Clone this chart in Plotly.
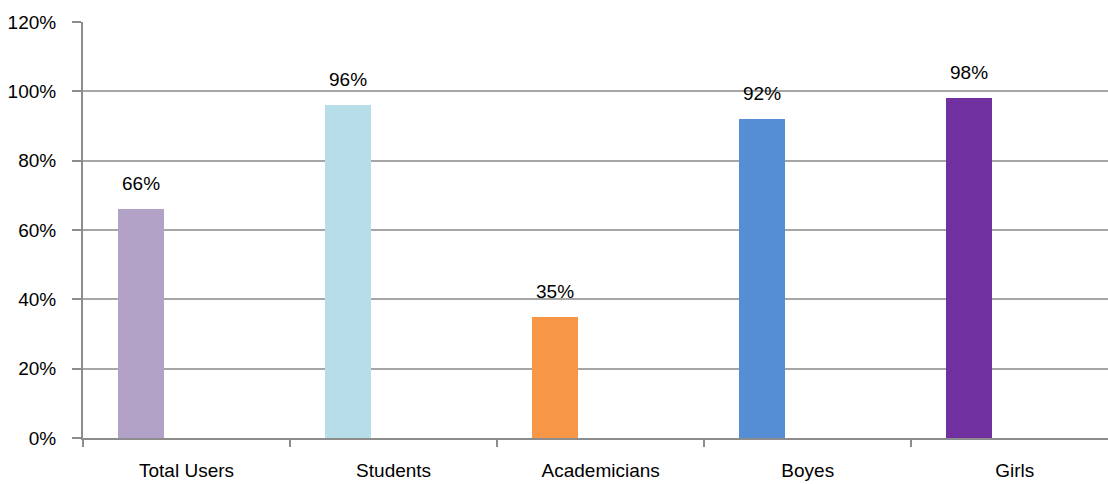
import plotly.graph_objects as go

categories = ["Total Users", "Students", "Academicians", "Boyes", "Girls"]
values = [66, 96, 35, 92, 98]
colors = ["#B3A2C7", "#B7DEE8", "#F79646", "#558ED5", "#7030A0"]
y_ticks = [0, 20, 40, 60, 80, 100, 120]

BAR_W = 0.222
BAR_OFF = -0.331
FONT = "Liberation Sans Narrow, Liberation Sans, Arial"

fig = go.Figure()
fig.add_trace(go.Bar(
    x=categories, y=values, marker=dict(color=colors, line=dict(width=0)),
    width=BAR_W, offset=BAR_OFF, showlegend=False, hoverinfo="x+y",
))

for i, v in enumerate(values):
    fig.add_annotation(x=i + BAR_OFF + BAR_W / 2, y=v, text=f"{v}%", showarrow=False,
                       yanchor="bottom", yshift=13, font=dict(size=19, color="#000", family=FONT))

fig.update_layout(
    width=1108, height=484,
    margin=dict(l=83, r=0, t=22, b=46),
    paper_bgcolor="white", plot_bgcolor="white",
    font=dict(family=FONT, size=19, color="#000"),
    bargap=0,
)
fig.update_xaxes(
    range=[-0.5, 4.45], showgrid=False, showline=True, linecolor="#8c8c8c", linewidth=2,
    ticks="outside", tickson="boundaries", ticklen=7, tickcolor="#8c8c8c", tickwidth=2,
    ticklabelstandoff=14, tickfont=dict(size=19, family=FONT), fixedrange=True,
)
fig.update_yaxes(
    range=[0, 120], tickvals=y_ticks, ticktext=[f"{t}%" for t in y_ticks],
    showgrid=True, gridcolor="#a6a6a6", gridwidth=2,
    showline=True, linecolor="#8c8c8c", linewidth=2, zeroline=False,
    ticks="outside", ticklen=9, tickcolor="#8c8c8c", tickwidth=2,
    ticklabelstandoff=12, tickfont=dict(size=19, family=FONT),
)

fig.write_html("out.html")
